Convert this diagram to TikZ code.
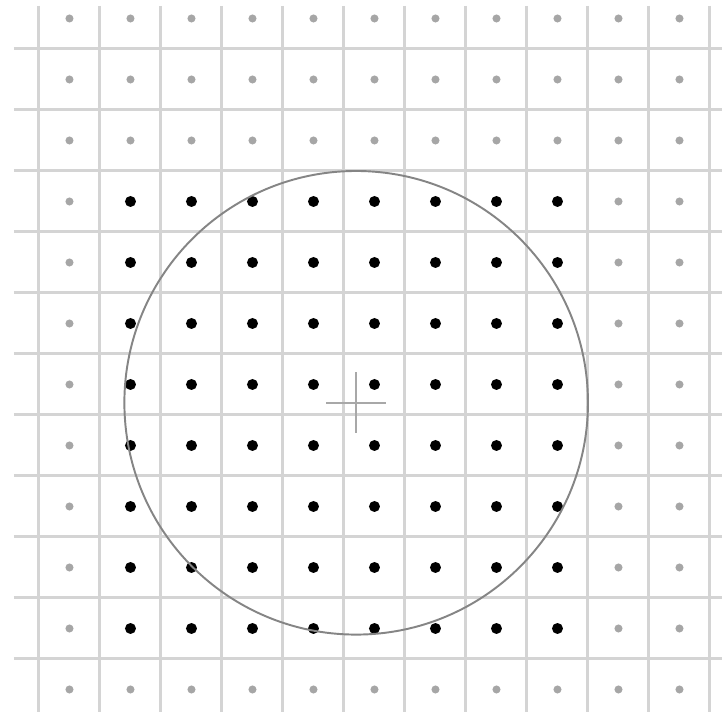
\documentclass[tikz,border=0pt]{standalone}
\usetikzlibrary{calc}
\definecolor{gridgray}{HTML}{D4D4D4}
\definecolor{dotgray}{HTML}{A6A6A6}
\definecolor{ringgray}{HTML}{858585}
\definecolor{crossgray}{HTML}{A8A8A8}
\tikzset{
  gridline/.style={draw=gridgray, line width=1.4pt},
  dimdot/.style={fill=dotgray},
  fulldot/.style={fill=black},
  ring/.style={draw=ringgray, line width=0.9pt},
  crossline/.style={draw=crossgray, line width=0.9pt}
}

\begin{document}
\begin{tikzpicture}[x=1cm, y=-1cm]
  \useasboundingbox (-0.639,-0.803) rectangle (11.197,10.869);
  \fill[white] (-0.639,-0.803) rectangle (11.197,10.869);
  % pixel grid
  \foreach \i in {0,...,11}
    \draw[gridline] (\i,-0.705) -- (\i,10.869);
  \foreach \j in {0,...,10}
    \draw[gridline] (-0.41,\j) -- (11.197,\j);
  % sample points, black inside the covered block
  \foreach \i in {0,...,10}
    \foreach \j in {0,...,11} {
      \pgfmathtruncatemacro\inside{and(and(\i>0,\i<9),and(\j>2,\j<11))}
      \ifnum\inside=1
        \fill[fulldot] (\i+0.5,\j-0.5) circle[radius=0.09];
      \else
        \fill[dimdot] (\i+0.5,\j-0.5) circle[radius=0.066];
      \fi
    }
  % circle and its centre
  \coordinate (c) at (5.2,5.8);
  \draw[ring] (c) circle[radius=3.8];
  \draw[crossline] ($(c)+(-0.49,0)$) -- ($(c)+(0.49,0)$);
  \draw[crossline] ($(c)+(0,-0.5)$) -- ($(c)+(0,0.5)$);
\end{tikzpicture}
\end{document}
